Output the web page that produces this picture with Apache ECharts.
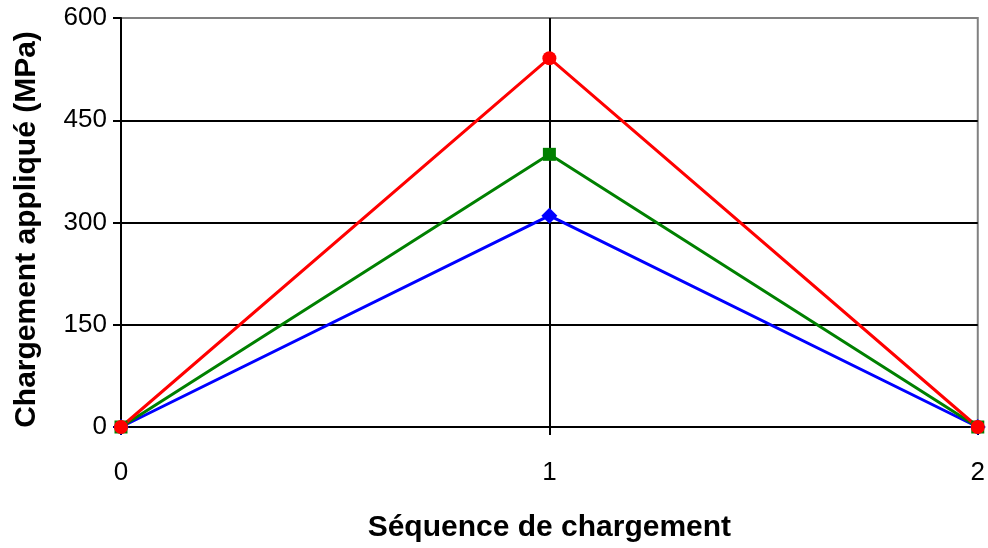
<!DOCTYPE html>
<html><head><meta charset="utf-8">
<script src="https://cdn.jsdelivr.net/npm/echarts@6/dist/echarts.min.js"></script>
<style>html,body{margin:0;padding:0;background:#fff}#c{width:988px;height:548px}</style>
</head><body><div id="c"></div>
<script>
const xValues = [0, 1, 2];
const blueValues = [0, 310, 0];
const greenValues = [0, 400, 0];
const redValues = [0, 541, 0];
const yTicks = [0, 150, 300, 450, 600];

const toPts = v => xValues.map((x, i) => [x, v[i]]);
const chart = echarts.init(document.getElementById('c'));
const font = '"Liberation Sans", Arial, sans-serif';
chart.setOption({
  animation: false,
  grid: {left: 121, top: 18, right: 7, bottom: 117, show: true, borderColor: '#808080', borderWidth: 2, containLabel: false},
  xAxis: {
    type: 'value', min: 0, max: 2, interval: 1,
    name: 'Séquence de chargement', nameLocation: 'middle', nameGap: 86,
    nameTextStyle: {fontFamily: font, fontSize: 30, fontWeight: 'bold', color: '#000'},
    axisLine: {lineStyle: {color: '#000', width: 2}},
    axisTick: {show: true, length: 8, lineStyle: {color: '#000', width: 2}},
    axisLabel: {fontFamily: font, fontSize: 26, color: '#000', margin: 33},
    splitLine: {show: true, showMaxLine: false, lineStyle: {color: '#000', width: 2}}
  },
  yAxis: {
    type: 'value', min: 0, max: 600, interval: 150,
    name: 'Chargement appliqué (MPa)', nameLocation: 'middle', nameGap: 79,
    nameTextStyle: {fontFamily: font, fontSize: 30, fontWeight: 'bold', color: '#000', padding: [0, 14, 0, 0]},
    axisLine: {show: true, lineStyle: {color: '#000', width: 2}},
    axisTick: {show: true, length: 8, lineStyle: {color: '#000', width: 2}},
    axisLabel: {fontFamily: font, fontSize: 26, color: '#000', margin: 14,
      formatter: v => yTicks.includes(v) ? String(v) : ''},
    splitLine: {show: true, showMaxLine: false, lineStyle: {color: '#000', width: 2}}
  },
  series: [
    {type: 'line', data: toPts(blueValues), symbol: 'diamond', symbolSize: 16,
     lineStyle: {color: '#0000ff', width: 3}, itemStyle: {color: '#0000ff'}},
    {type: 'line', data: toPts(greenValues), symbol: 'rect', symbolSize: 13,
     lineStyle: {color: '#008000', width: 3}, itemStyle: {color: '#008000'}},
    {type: 'line', data: toPts(redValues), symbol: 'circle', symbolSize: 14,
     lineStyle: {color: '#ff0000', width: 3}, itemStyle: {color: '#ff0000'}}
  ]
});
</script></body></html>
